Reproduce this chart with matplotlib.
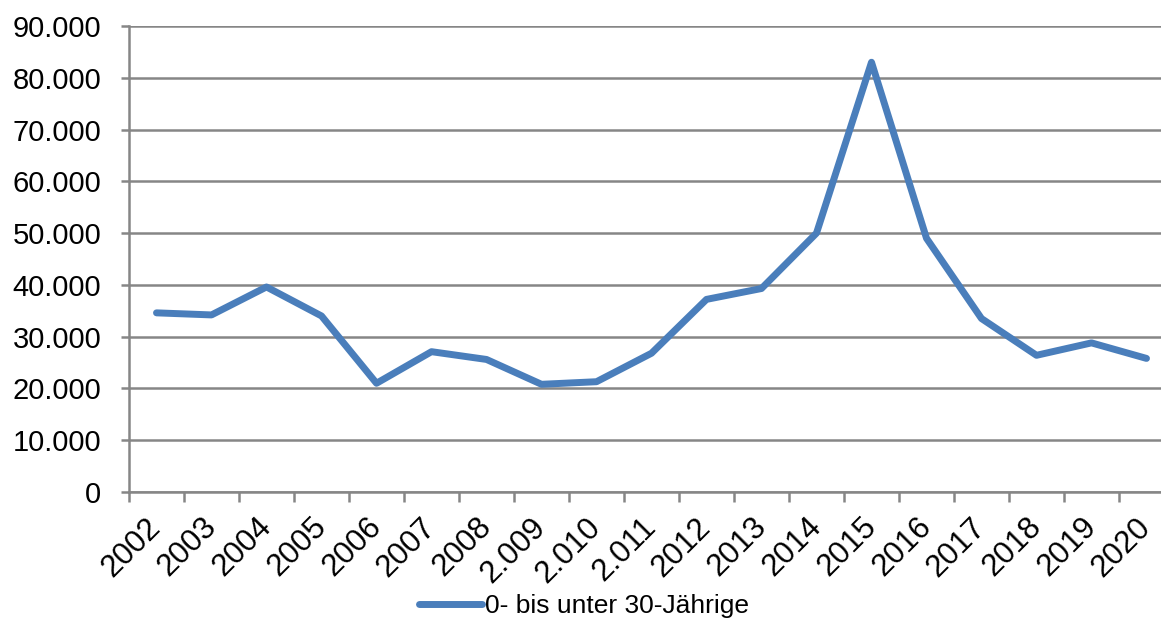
import numpy as np
import matplotlib.pyplot as plt
from matplotlib.ticker import FuncFormatter

plt.rcParams['font.family'] = ['Liberation Sans', 'DejaVu Sans']

years = ['2002', '2003', '2004', '2005', '2006', '2007', '2008', '2.009', '2.010',
         '2.011', '2012', '2013', '2014', '2015', '2016', '2017', '2018', '2019', '2020']
werte = [34600, 34200, 39600, 34000, 21000, 27100, 25600, 20800, 21300,
         26800, 37200, 39300, 50000, 83000, 49000, 33500, 26400, 28800, 25800]
serie = '0- bis unter 30-Jährige'

blau = '#4a7ebb'
grau = '#868686'

fig = plt.figure(figsize=(11.61, 6.21), dpi=100)
ax = fig.add_axes([129 / 1161, 129 / 621, 1045 / 1161, 466 / 621])

x = np.arange(len(years))
ax.plot(x, werte, color=blau, lw=5, solid_joinstyle='round',
        solid_capstyle='round', label=serie, zorder=3)

ax.set_xlim(-0.5, len(years) - 0.5)
ax.set_ylim(0, 90000)
ax.set_yticks(np.arange(0, 90001, 10000))
ax.yaxis.set_major_formatter(FuncFormatter(lambda v, p: f'{int(v):,}'.replace(',', '.')))
ax.grid(axis='y', color=grau, lw=1.8)
ax.set_axisbelow(True)

# tick marks between categories, labels centred on categories
ax.set_xticks(np.arange(-0.5, len(years), 1))
ax.set_xticklabels([])
ax.set_xticks(x, minor=True)
ax.set_xticklabels(years, minor=True, rotation=45, ha='right', va='center',
                   rotation_mode='anchor', fontsize=22.5)
ax.tick_params(axis='x', which='minor', length=0, pad=22)
ax.tick_params(axis='x', which='major', length=7, width=1.8, color=grau)
ax.tick_params(axis='y', length=6, width=1.8, color=grau, labelsize=21, pad=14)

for s in ['top', 'right']:
    ax.spines[s].set_visible(False)
for s in ['left', 'bottom']:
    ax.spines[s].set_color(grau)
    ax.spines[s].set_linewidth(1.8)

fig.legend(loc='center', bbox_to_anchor=(0.503, 0.024), frameon=False,
           fontsize=19, handlelength=2.4, handletextpad=0.1)

fig.savefig('out.png', dpi=100)
